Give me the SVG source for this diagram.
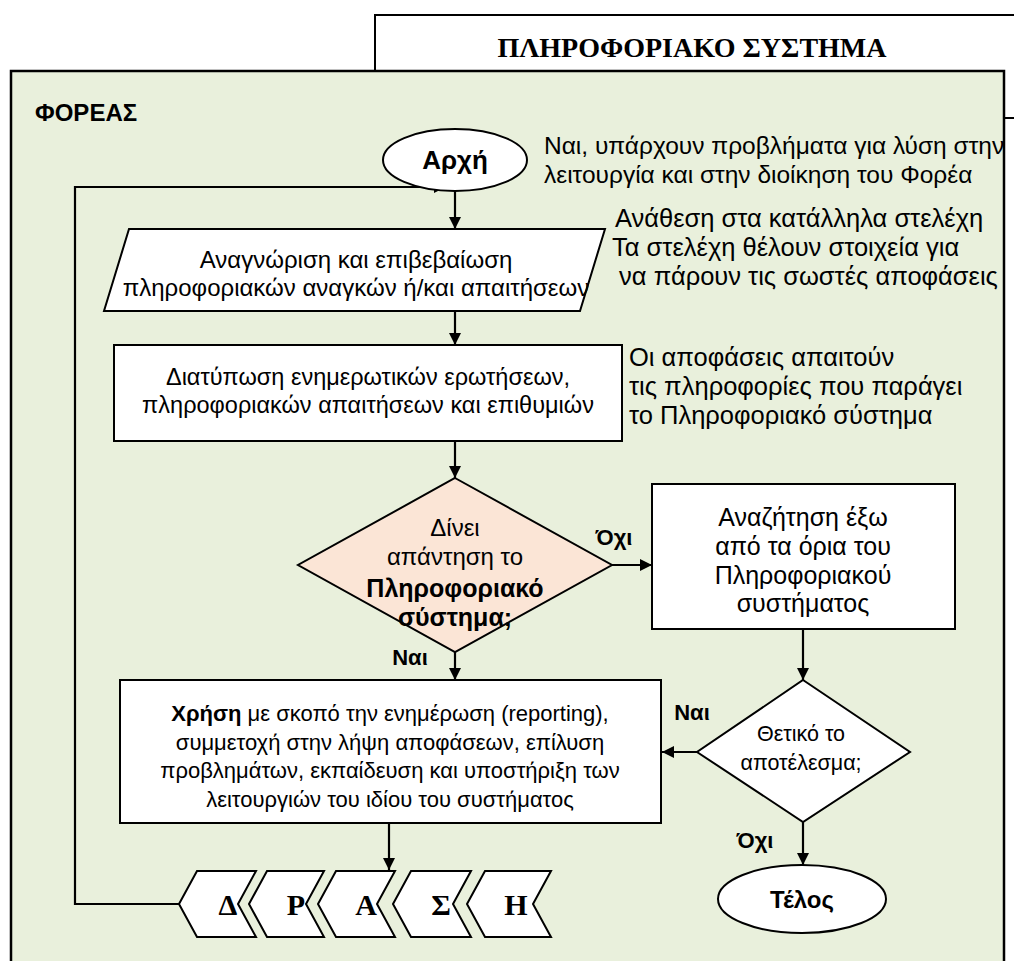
<svg xmlns="http://www.w3.org/2000/svg" width="1014" height="961" viewBox="0 0 1014 961">
  <defs>
    <marker id="arr" viewBox="0 0 12 12" refX="12" refY="6" markerWidth="12" markerHeight="12" markerUnits="userSpaceOnUse" orient="auto">
      <path d="M0,0 L12,6 L0,12 Z" fill="#000"/>
    </marker>
    <style>
      .shape { fill: #fff; stroke: #000; stroke-width: 2; }
      .decision { fill: #FBE5D6; stroke: #000; stroke-width: 2; }
      .txt { font-family: "Liberation Sans", Arial, sans-serif; font-size: 22px; fill: #000; }
      .mid { text-anchor: middle; }
      .b { font-weight: bold; }
      .serif { font-family: "Liberation Serif", "Times New Roman", serif; font-weight: bold; fill: #000; }
      .conn { fill: none; stroke: #000; stroke-width: 2.2; }
    </style>
  </defs>

  <rect width="1014" height="961" fill="#fff"/>

  <!-- information system frame -->
  <g id="info-system">
    <rect x="375" y="15" width="700" height="103" fill="#fff" stroke="#000" stroke-width="2"/>
    <text x="692" y="57" class="serif mid" style="font-size:28px">ΠΛΗΡΟΦΟΡΙΑΚΟ ΣΥΣΤΗΜΑ</text>
  </g>

  <!-- organisation frame -->
  <g id="organisation">
    <rect x="11" y="71" width="993" height="920" fill="#E9F0DC" stroke="#000" stroke-width="2.5"/>
    <text x="35" y="121" class="txt b" style="font-size:24px">ΦΟΡΕΑΣ</text>
  </g>

  <!-- annotations -->
  <g id="notes" class="txt">
    <text x="544" y="154" style="font-size:24.5px">Ναι, υπάρχουν προβλήματα για λύση στην</text>
    <text x="544" y="183" style="font-size:24.5px">λειτουργία και στην διοίκηση του Φορέα</text>
    <text x="615" y="227" style="font-size:25.5px">Ανάθεση στα κατάλληλα στελέχη</text>
    <text x="612" y="256" style="font-size:25.5px">Τα στελέχη θέλουν στοιχεία για</text>
    <text x="612" y="285" style="font-size:25.5px" xml:space="preserve"> να πάρουν τις σωστές αποφάσεις</text>
    <text x="629" y="366" style="font-size:25.5px">Οι αποφάσεις απαιτούν</text>
    <text x="629" y="395" style="font-size:25.5px">τις πληροφορίες που παράγει</text>
    <text x="629" y="424" style="font-size:25.5px">το Πληροφοριακό σύστημα</text>
  </g>

  <!-- connectors -->
  <g id="connectors">
    <polyline class="conn" points="179,904 75,904 75,187 446,187" marker-end="url(#arr)"/>
    <line class="conn" x1="455" y1="191" x2="455" y2="229" marker-end="url(#arr)"/>
    <line class="conn" x1="455" y1="311" x2="455" y2="345" marker-end="url(#arr)"/>
    <line class="conn" x1="455" y1="441" x2="455" y2="478" marker-end="url(#arr)"/>
    <line class="conn" x1="612" y1="565" x2="652" y2="565" marker-end="url(#arr)"/>
    <line class="conn" x1="455" y1="652" x2="455" y2="680" marker-end="url(#arr)"/>
    <line class="conn" x1="803" y1="629" x2="803" y2="680" marker-end="url(#arr)"/>
    <line class="conn" x1="697" y1="752" x2="662" y2="752" marker-end="url(#arr)"/>
    <line class="conn" x1="803" y1="822" x2="803" y2="865" marker-end="url(#arr)"/>
    <line class="conn" x1="389" y1="823" x2="389" y2="870" marker-end="url(#arr)"/>
    <text x="614" y="545" class="txt b mid">Όχι</text>
    <text x="410" y="665" class="txt b mid">Ναι</text>
    <text x="692" y="720" class="txt b mid">Ναι</text>
    <text x="755" y="848" class="txt b mid">Όχι</text>
  </g>

  <g id="start">
    <ellipse class="shape" cx="455" cy="160" rx="72" ry="31"/>
    <text x="455" y="169" class="txt b mid" style="font-size:26px">Αρχή</text>
  </g>

  <g id="identify-needs">
    <polygon class="shape" points="129,229 605,229 580,311 104,311"/>
    <text x="356" y="268" class="txt mid" style="font-size:24px">Αναγνώριση και επιβεβαίωση</text>
    <text x="356" y="296" class="txt mid" style="font-size:24px">πληροφοριακών αναγκών ή/και απαιτήσεων</text>
  </g>

  <g id="formulate-questions">
    <rect class="shape" x="114" y="345" width="508" height="96"/>
    <text x="368" y="385" class="txt mid" style="font-size:23.5px">Διατύπωση ενημερωτικών ερωτήσεων,</text>
    <text x="368" y="413" class="txt mid" style="font-size:23.5px">πληροφοριακών απαιτήσεων και επιθυμιών</text>
  </g>

  <g id="decision-answer">
    <polygon class="decision" points="455,478 612,565 455,652 298,565"/>
    <text x="455" y="536" class="txt mid" style="font-size:24px">Δίνει</text>
    <text x="455" y="565" class="txt mid" style="font-size:24px">απάντηση το</text>
    <text x="455" y="597" class="txt b mid" style="font-size:25px">Πληροφοριακό</text>
    <text x="455" y="626" class="txt b mid" style="font-size:25px">σύστημα;</text>
  </g>

  <g id="search-outside">
    <rect class="shape" x="652" y="484" width="303" height="145"/>
    <text x="803" y="526" class="txt mid" style="font-size:25px">Αναζήτηση έξω</text>
    <text x="803" y="555" class="txt mid" style="font-size:25px">από τα όρια του</text>
    <text x="803" y="584" class="txt mid" style="font-size:25px">Πληροφοριακού</text>
    <text x="803" y="612" class="txt mid" style="font-size:25px">συστήματος</text>
  </g>

  <g id="decision-positive">
    <polygon class="shape" points="803,680 910,752 803,822 697,752"/>
    <text x="801" y="741" class="txt mid" style="font-size:21.5px">Θετικό το</text>
    <text x="801" y="770" class="txt mid" style="font-size:21.5px">αποτέλεσμα;</text>
  </g>

  <g id="usage">
    <rect class="shape" x="120" y="680" width="541" height="143"/>
    <text x="390" y="721" class="txt mid"><tspan class="b">Χρήση</tspan> με σκοπό την ενημέρωση (reporting),</text>
    <text x="390" y="750" class="txt mid">συμμετοχή στην λήψη αποφάσεων, επίλυση</text>
    <text x="390" y="778" class="txt mid">προβλημάτων, εκπαίδευση και υποστήριξη των</text>
    <text x="390" y="807" class="txt mid">λειτουργιών του ιδίου του συστήματος</text>
  </g>

  <g id="end">
    <ellipse class="shape" cx="802" cy="899" rx="84" ry="34"/>
    <text x="802" y="908" class="txt b mid" style="font-size:24px">Τέλος</text>
  </g>

  <!-- ΔΡΑΣΗ chevrons -->
  <g id="chevron-d">
    <polygon class="shape" points="179,904 197,871 256,871 238,904 256,937 197,937"/>
    <text x="228" y="915" class="serif mid" style="font-size:30px">Δ</text>
  </g>
  <g id="chevron-r">
    <polygon class="shape" points="249,904 267,871 324,871 306,904 324,937 267,937"/>
    <text x="296" y="915" class="serif mid" style="font-size:30px">Ρ</text>
  </g>
  <g id="chevron-a">
    <polygon class="shape" points="318,904 336,871 395,871 377,904 395,937 336,937"/>
    <text x="366" y="915" class="serif mid" style="font-size:30px">Α</text>
  </g>
  <g id="chevron-s">
    <polygon class="shape" points="393,904 411,871 471,871 453,904 471,937 411,937"/>
    <text x="441" y="915" class="serif mid" style="font-size:30px">Σ</text>
  </g>
  <g id="chevron-h">
    <polygon class="shape" points="467,904 485,871 551,871 533,904 551,937 485,937"/>
    <text x="516" y="915" class="serif mid" style="font-size:30px">Η</text>
  </g>
</svg>
